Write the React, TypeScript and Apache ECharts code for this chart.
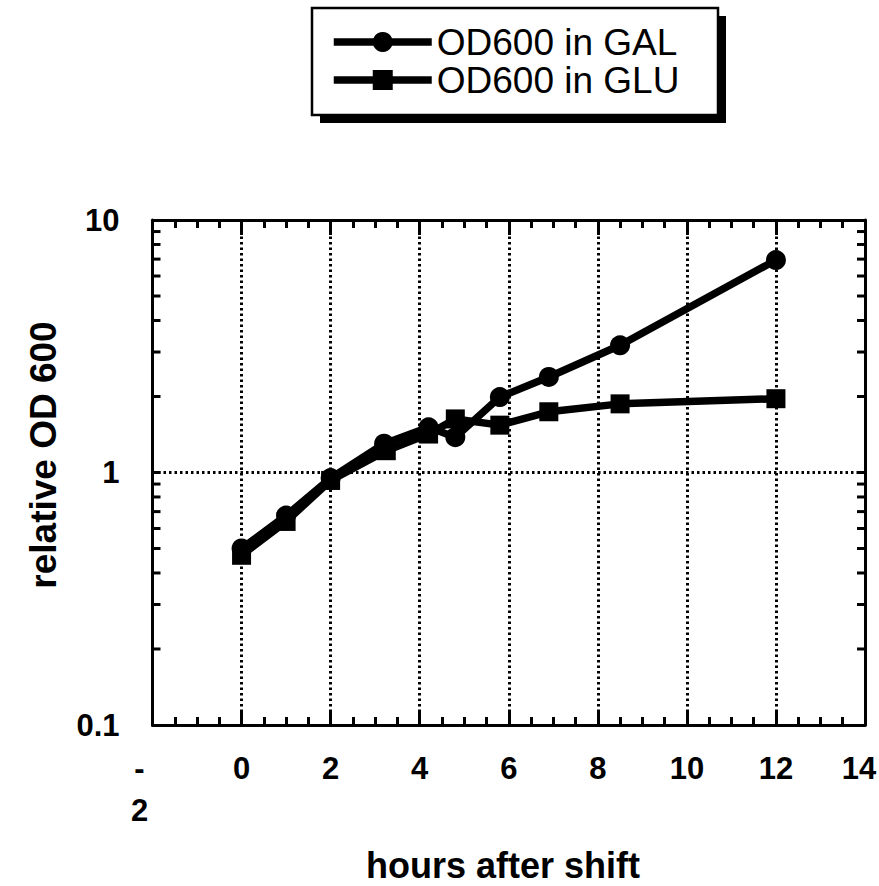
import React, { useEffect, useRef } from "react";
import * as echarts from "echarts";

const xGal = [0, 1, 2, 3.2, 4.2, 4.8, 5.8, 6.9, 8.5, 12];
const yGal = [0.5, 0.675, 0.95, 1.3, 1.51, 1.38, 1.99, 2.39, 3.19, 6.94];
const xGlu = [0, 1, 2, 3.25, 4.2, 4.8, 5.8, 6.9, 8.5, 12];
const yGlu = [0.47, 0.64, 0.93, 1.22, 1.42, 1.63, 1.54, 1.74, 1.87, 1.96];
const seriesNames = ["OD600 in GAL", "OD600 in GLU"];
const yMinorTicks = [0.2, 0.3, 0.4, 0.5, 0.6, 0.7, 0.8, 0.9, 2, 3, 4, 5, 6, 7, 8, 9];
const xTitle = "hours after shift";
const yTitle = "relative OD 600";

const SANS = "'Liberation Sans', Arial, Helvetica, sans-serif";

export default function App() {
  const ref = useRef<HTMLDivElement>(null);
  useEffect(() => {
    if (!ref.current) return;
    const chart = echarts.init(ref.current, undefined, { renderer: "svg" });
    const xMin = -2;
    const xMax = 14;
    const dotted = { color: "#000", width: 3, type: [2.5, 3] };
    const labelBase = {
      fontFamily: SANS,
      fontWeight: "bold",
      fontSize: 31,
      lineHeight: 42,
      color: "#000",
    };
    const baseX = {
      type: "value",
      min: xMin,
      max: xMax,
      interval: 2,
      axisLine: { show: true, onZero: false, lineStyle: { color: "#000", width: 3 } },
      axisTick: { show: true, inside: true, length: 15, lineStyle: { color: "#000", width: 3 } },
      minorTick: { show: true, splitNumber: 4, length: 8, lineStyle: { color: "#000", width: 3 } },
    };
    const baseY = {
      type: "log",
      logBase: 10,
      min: 0.1,
      max: 10,
      axisLine: { show: true, onZero: false, lineStyle: { color: "#000", width: 3 } },
      axisTick: { show: true, inside: true, length: 8, lineStyle: { color: "#000", width: 3 } },
    };
    const option = {
      animation: false,
      backgroundColor: "#fff",
      grid: {
        left: 152.5,
        top: 220,
        right: 14,
        bottom: 161,
        containLabel: false,
        outerBoundsMode: "none",
      },
      xAxis: [
        {
          ...baseX,
          position: "bottom",
          axisLabel: {
            show: true,
            ...labelBase,
            margin: 22,
            formatter: (v: number) =>
              v < 0
                ? "{neg|-}\n{neg|" + String(Math.abs(v)) + "}"
                : v === xMax
                ? "{last|" + v + "}"
                : String(v),
            rich: {
              last: { ...labelBase, padding: [0, 12, 0, 0] },
              neg: { ...labelBase, padding: [0, 26, 0, 0] },
            },
          },
          splitLine: { show: true, lineStyle: dotted },
        },
        {
          ...baseX,
          position: "top",
          axisLabel: { show: false },
          splitLine: { show: false },
        },
      ],
      yAxis: [
        {
          ...baseY,
          position: "left",
          axisLabel: {
            show: true,
            color: "#000",
            fontFamily: SANS,
            fontWeight: "bold",
            fontSize: 31,
            margin: 33,
          },
          splitLine: { show: true, lineStyle: dotted },
        },
        {
          ...baseY,
          position: "right",
          axisLabel: { show: false },
          splitLine: { show: false },
        },
      ],
      legend: {
        data: seriesNames,
        orient: "vertical",
        left: 330,
        top: 23,
        z: 10,
        padding: 0,
        itemWidth: 98,
        itemHeight: 25,
        itemGap: 0,
        lineStyle: { width: 7.5, color: "#000" },
        itemStyle: { color: "#000" },
        textStyle: {
          color: "#000",
          fontFamily: SANS,
          fontSize: 37,
          lineHeight: 38,
        },
        selectedMode: false,
      },
      graphic: [
        {
          type: "rect",
          z: 1,
          shape: { x: 320, y: 16, width: 406, height: 107 },
          style: { fill: "#000" },
        },
        {
          type: "rect",
          z: 2,
          shape: { x: 312, y: 8, width: 406, height: 107 },
          style: { fill: "#fff", stroke: "#000", lineWidth: 2.5 },
        },
        {
          type: "text",
          z: 5,
          x: 503,
          y: 865,
          style: {
            text: xTitle,
            fill: "#000",
            font: "bold 36px " + SANS,
            textAlign: "center",
            textVerticalAlign: "middle",
          },
        },
        {
          type: "text",
          z: 5,
          x: 43,
          y: 455,
          rotation: Math.PI / 2,
          style: {
            text: yTitle,
            fill: "#000",
            font: "bold 37px " + SANS,
            textAlign: "center",
            textVerticalAlign: "middle",
          },
        },
      ],
      series: [
        {
          name: seriesNames[0],
          type: "line",
          data: xGal.map((x, i) => [x, yGal[i]]),
          symbol: "circle",
          symbolSize: 20,
          lineStyle: { color: "#000", width: 7.5 },
          itemStyle: { color: "#000" },
          z: 3,
        },
        {
          name: seriesNames[1],
          type: "line",
          data: xGlu.map((x, i) => [x, yGlu[i]]),
          symbol: "rect",
          symbolSize: 19,
          lineStyle: { color: "#000", width: 7.5 },
          itemStyle: { color: "#000" },
          z: 3,
        },
        {
          name: "yMinorTicks",
          type: "custom",
          silent: true,
          clip: false,
          data: yMinorTicks.map((v) => [xMin, v]),
          renderItem: (_params: any, api: any) => {
            const v = api.value(1);
            const l = api.coord([xMin, v]);
            const r = api.coord([xMax, v]);
            return {
              type: "group",
              children: [
                {
                  type: "line",
                  shape: { x1: l[0], y1: l[1], x2: l[0] + 8, y2: l[1] },
                  style: { stroke: "#000", lineWidth: 3 },
                },
                {
                  type: "line",
                  shape: { x1: r[0] - 8, y1: r[1], x2: r[0], y2: r[1] },
                  style: { stroke: "#000", lineWidth: 3 },
                },
              ],
            };
          },
          z: 2,
        },
      ],
    };
    chart.setOption(option as any);
    return () => chart.dispose();
  }, []);
  return (
    <div
      ref={ref}
      style={{ position: "fixed", left: 0, top: 0, width: 879, height: 886, background: "#fff" }}
    />
  );
}
